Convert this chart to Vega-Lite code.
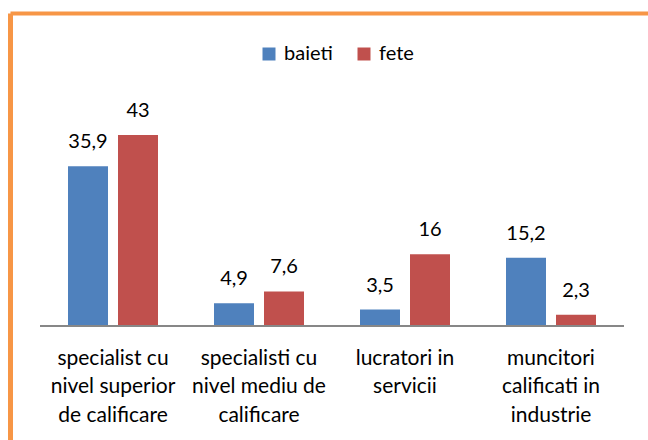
{
  "$schema": "https://vega.github.io/schema/vega-lite/v6.json",
  "width": 638,
  "height": 427,
  "autosize": {"type": "none"},
  "padding": {"left": 10, "top": 13, "right": 0, "bottom": 0},
  "background": "white",
  "config": {
    "view": {"stroke": null},
    "locale": {"number": {"decimal": ",", "thousands": ".", "grouping": [3], "currency": ["", " lei"]}}
  },
  "data": {
    "values": [
      {"cat": "specialist cu nivel superior de calificare", "sex": "baieti", "value": 35.9},
      {"cat": "specialist cu nivel superior de calificare", "sex": "fete", "value": 43},
      {"cat": "specialisti cu nivel mediu de calificare", "sex": "baieti", "value": 4.9},
      {"cat": "specialisti cu nivel mediu de calificare", "sex": "fete", "value": 7.6},
      {"cat": "lucratori in servicii", "sex": "baieti", "value": 3.5},
      {"cat": "lucratori in servicii", "sex": "fete", "value": 16},
      {"cat": "muncitori calificati in industrie", "sex": "baieti", "value": 15.2},
      {"cat": "muncitori calificati in industrie", "sex": "fete", "value": 2.3}
    ]
  },
  "resolve": {"axis": {"x": "independent"}},
  "layer": [
    {
      "mark": {"type": "bar"},
      "encoding": {
        "x": {
          "field": "cat", "type": "nominal", "sort": null,
          "scale": {"paddingInner": 0, "paddingOuter": 0.18493, "align": 0.5556},
          "axis": {
            "orient": "bottom", "title": null, "domain": false, "ticks": false, "grid": false,
            "offset": -102, "labelAngle": 0, "labelFont": "Lato", "labelFontSize": 21,
            "labelColor": "#000000", "labelPadding": 9, "labelLineHeight": 28.5,
            "labelLimit": 0, "labelOverlap": false, "labelBound": false,
            "labelExpr": "datum.value == 'specialist cu nivel superior de calificare' ? ['specialist cu', 'nivel superior', 'de calificare'] : datum.value == 'specialisti cu nivel mediu de calificare' ? ['specialisti cu', 'nivel mediu de', 'calificare'] : datum.value == 'lucratori in servicii' ? ['lucratori in', 'servicii'] : ['muncitori', 'calificati in', 'industrie']"
          }
        },
        "xOffset": {
          "field": "sex", "type": "nominal", "sort": ["baieti", "fete"],
          "scale": {"paddingInner": 0.2, "paddingOuter": 0.56}
        },
        "y": {
          "field": "value", "type": "quantitative",
          "scale": {"domain": [-26.02, 70.59], "zero": false, "nice": false},
          "axis": {
            "orient": "left", "title": null, "labels": false, "ticks": false, "grid": false,
            "domainColor": "#F79646", "domainWidth": 5
          }
        },
        "color": {
          "field": "sex", "type": "nominal",
          "scale": {"domain": ["baieti", "fete"], "range": ["#4F81BD", "#C0504D"]},
          "legend": {
            "orient": "none", "legendX": 249, "legendY": 31, "direction": "horizontal",
            "title": null, "symbolType": "square", "symbolSize": 169, "symbolStrokeWidth": 0,
            "labelFont": "Lato", "labelFontSize": 20, "labelColor": "#000000",
            "labelOffset": 5, "columnPadding": 21, "padding": 0
          }
        }
      }
    },
    {
      "mark": {"type": "text", "baseline": "alphabetic", "align": "center", "dy": -18, "font": "Lato", "fontSize": 20, "color": "#000000"},
      "encoding": {
        "x": {"field": "cat", "type": "nominal", "sort": null, "axis": null},
        "xOffset": {"field": "sex", "type": "nominal", "sort": ["baieti", "fete"]},
        "y": {"field": "value", "type": "quantitative"},
        "text": {"field": "value", "type": "quantitative", "format": ".3~r"}
      }
    },
    {
      "transform": [{"filter": "datum.sex == 'baieti'"}],
      "mark": {"type": "bar", "color": "#878787"},
      "encoding": {
        "x": {
          "field": "cat", "type": "nominal", "sort": null,
          "axis": {"orient": "top", "title": null, "labels": false, "ticks": false, "grid": false, "domainColor": "#F79646", "domainWidth": 4}
        },
        "y": {"datum": 0, "type": "quantitative"},
        "y2": {"datum": -0.45}
      }
    }
  ]
}
